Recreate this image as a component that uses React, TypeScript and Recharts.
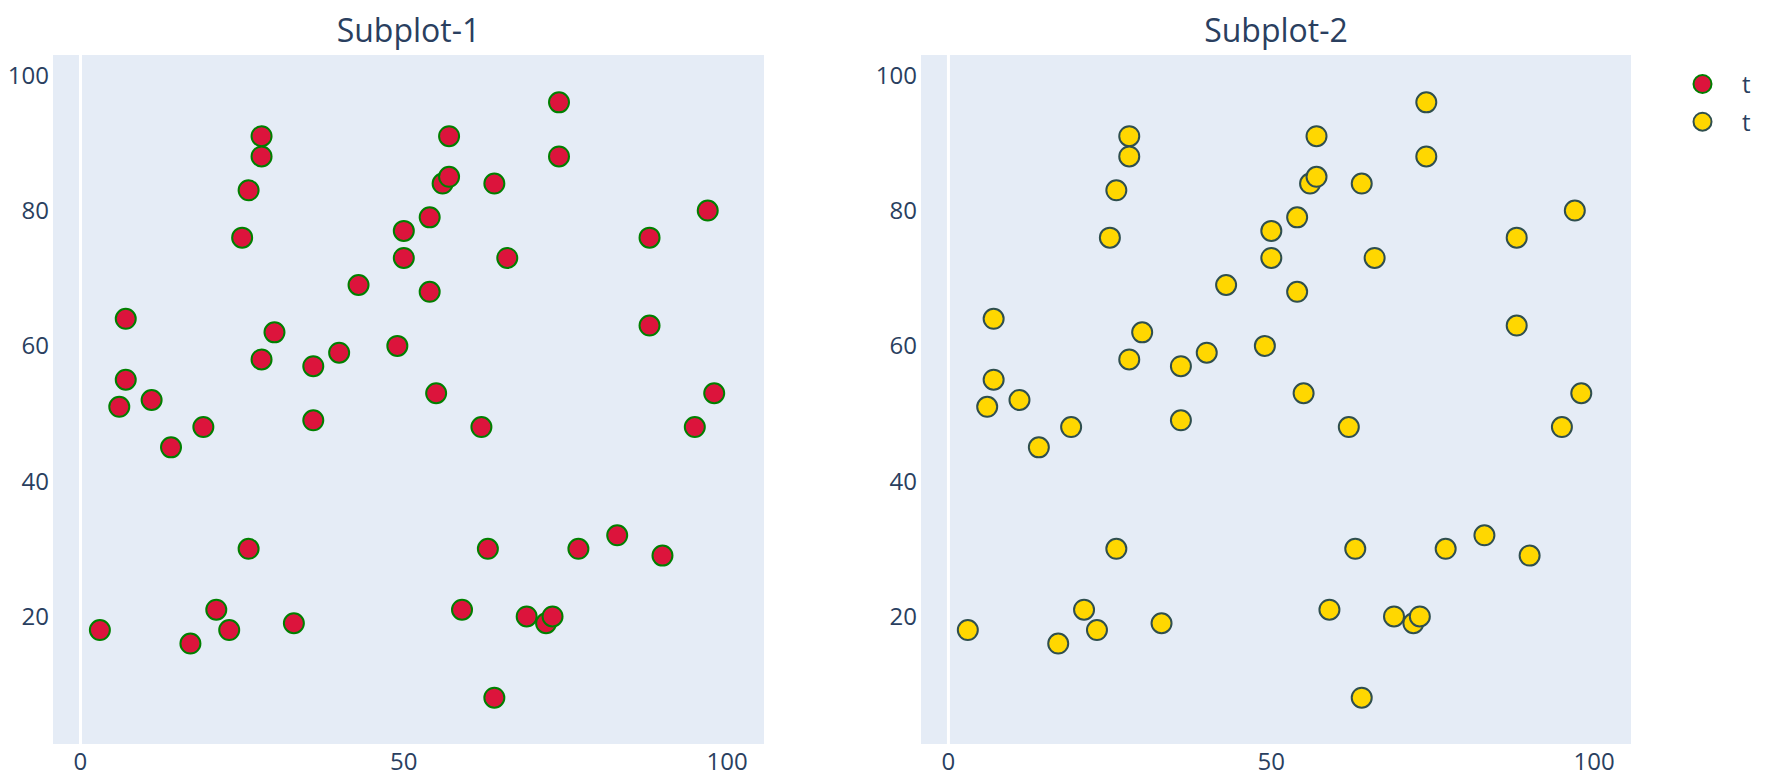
import React from "react";
import {
  CartesianGrid,
  ReferenceLine,
  Scatter,
  ScatterChart,
  XAxis,
  YAxis,
} from "recharts";

// same 50 points are drawn in both subplots
const xValues = [
  3, 6, 7, 7, 11, 14, 17, 19, 21, 23, 25, 26, 26, 28, 28, 28, 30, 33, 36, 36,
  40, 43, 49, 50, 50, 54, 54, 55, 56, 57, 57, 59, 62, 63, 64, 64, 66, 69, 72,
  73, 74, 74, 77, 83, 88, 88, 90, 95, 97, 98,
];
const yValues = [
  18, 51, 55, 64, 52, 45, 16, 48, 21, 18, 76, 83, 30, 91, 88, 58, 62, 19, 57,
  49, 59, 69, 60, 77, 73, 79, 68, 53, 84, 85, 91, 21, 48, 30, 84, 8, 73, 20,
  19, 20, 96, 88, 30, 32, 76, 63, 29, 48, 80, 53,
];
const xTicks = [0, 50, 100];
const yTicks = [20, 40, 60, 80, 100];
const seriesNames = ["t", "t"];
const subplotTitles = ["Subplot-1", "Subplot-2"];

const points = xValues.map((x, i) => ({ x, y: yValues[i] }));

const FONT = '"Open Sans", "Noto Sans", sans-serif';
const TEXT = "#2a3f5f";
const PLOT_BG = "#E5ECF6";

const markers = [
  { fill: "#DC143C", stroke: "#008000" },
  { fill: "#FFD700", stroke: "#2F4F4F" },
];

const X_DOMAIN: [number, number] = [-4.25, 105.7];
const Y_DOMAIN: [number, number] = [1.15, 103];

type PanelProps = {
  left: number;
  width: number;
  yAxisWidth: number;
  rightMargin: number;
  marker: { fill: string; stroke: string };
  name: string;
};

function Panel({ left, width, yAxisWidth, rightMargin, marker, name }: PanelProps) {
  return (
    <div style={{ position: "absolute", left, top: 0 }}>
      <ScatterChart
        width={width}
        height={774}
        margin={{ top: 55, right: rightMargin, bottom: 0, left: 0 }}
      >
        <CartesianGrid
          horizontal={false}
          vertical={false}
          fill={PLOT_BG}
          stroke="none"
        />
        <XAxis
          type="number"
          dataKey="x"
          domain={X_DOMAIN}
          ticks={xTicks}
          allowDataOverflow
          axisLine={false}
          tickLine={false}
          tickSize={0}
          tickMargin={9}
          height={30}
          tick={{ fontSize: 24, fill: TEXT, fontFamily: FONT }}
        />
        <YAxis
          type="number"
          dataKey="y"
          domain={Y_DOMAIN}
          ticks={yTicks}
          allowDataOverflow
          axisLine={false}
          tickLine={false}
          tickSize={0}
          tickMargin={4}
          width={yAxisWidth}
          tick={{ fontSize: 24, fill: TEXT, fontFamily: FONT }}
        />
        <ReferenceLine x={0} stroke="#ffffff" strokeWidth={3} />
        <Scatter
          name={name}
          data={points}
          isAnimationActive={false}
          shape={(p: any) => (
            <circle
              cx={p.cx}
              cy={p.cy}
              r={10}
              fill={marker.fill}
              stroke={marker.stroke}
              strokeWidth={2}
            />
          )}
        />
      </ScatterChart>
    </div>
  );
}

export default function App() {
  return (
    <div
      style={{
        position: "absolute",
        left: 0,
        top: 0,
        width: 1768,
        height: 774,
        background: "#ffffff",
        fontFamily: FONT,
      }}
    >
      <Panel
        left={0}
        width={884}
        yAxisWidth={53}
        rightMargin={120}
        marker={markers[0]}
        name={seriesNames[0]}
      />
      <Panel
        left={860}
        width={908}
        yAxisWidth={61}
        rightMargin={137}
        marker={markers[1]}
        name={seriesNames[1]}
      />
      <svg
        width={1768}
        height={774}
        style={{ position: "absolute", left: 0, top: 0, pointerEvents: "none" }}
      >
        <text
          x={408.5}
          y={41.5}
          textAnchor="middle"
          fontSize={32}
          fill={TEXT}
          fontFamily={FONT}
        >
          {subplotTitles[0]}
        </text>
        <text
          x={1276}
          y={41.5}
          textAnchor="middle"
          fontSize={32}
          fill={TEXT}
          fontFamily={FONT}
        >
          {subplotTitles[1]}
        </text>
        {seriesNames.map((n, i) => (
          <g key={i}>
            <circle
              cx={1702.5}
              cy={84 + i * 37.7}
              r={9}
              fill={markers[i].fill}
              stroke={markers[i].stroke}
              strokeWidth={2}
            />
            <text
              x={1742}
              y={93 + i * 37.7}
              fontSize={24}
              fill={TEXT}
              fontFamily={FONT}
            >
              {n}
            </text>
          </g>
        ))}
      </svg>
    </div>
  );
}
